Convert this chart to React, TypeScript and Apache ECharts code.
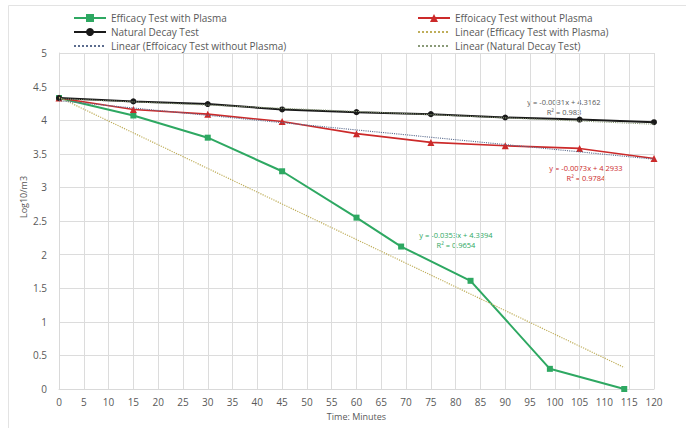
import React, { useEffect, useRef } from "react";
import * as echarts from "echarts";

const plasmaX = [0, 15, 30, 45, 60, 69, 83, 99, 114];
const plasmaY = [4.33, 4.07, 3.74, 3.24, 2.55, 2.12, 1.61, 0.3, 0.0];
const noPlasmaX = [0, 15, 30, 45, 60, 75, 90, 105, 120];
const noPlasmaY = [4.33, 4.16, 4.09, 3.98, 3.8, 3.67, 3.62, 3.58, 3.43];
const naturalX = [0, 15, 30, 45, 60, 75, 90, 105, 120];
const naturalY = [4.33, 4.28, 4.24, 4.16, 4.12, 4.09, 4.04, 4.01, 3.97];
const trendPlasma = [[0, 4.34], [114, 0.32]];
const trendNoPlasma = [[0, 4.29], [120, 3.42]];
const trendNatural = [[0, 4.32], [120, 3.94]];
const eqNatural = ["y = -0.0031x + 4.3162", "R² = 0.983"];
const eqNoPlasma = ["y = -0.0073x + 4.2933", "R² = 0.9784"];
const eqPlasma = ["y = -0.0353x + 4.3394", "R² = 0.9654"];

const FONT = "'Open Sans', 'Liberation Sans', sans-serif";
const GREEN = "#2ea862";
const RED = "#cc2a2a";
const BLACK = "#1a1a1a";
const T_GREEN = "#bfae5a";
const T_RED = "#5b6c8e";
const T_BLACK = "#8a9a78";

const zip = (xs: number[], ys: number[]) => xs.map((x, i) => [x, ys[i]]);

export default function App() {
  const ref = useRef<HTMLDivElement>(null);
  useEffect(() => {
    if (!ref.current) return;
    const chart = echarts.init(ref.current, undefined, { renderer: "svg" });
    const legendText = { color: "#595959", fontSize: 10, fontFamily: FONT };
    const eqText = (x: number, y: number, lines: string[], color: string) =>
      lines.map((s, i) => ({
        type: "text",
        x,
        y: y + i * 10,
        style: {
          text: s,
          fill: color,
          fontSize: 7.5,
          fontFamily: FONT,
          align: "center",
          verticalAlign: "middle",
        },
      }));
    const hideSym = (name: string) => ({ name, itemStyle: { opacity: 0 } });
    chart.setOption({
      animation: false,
      backgroundColor: "#ffffff",
      textStyle: { fontFamily: FONT },
      grid: { left: 59, right: 32, top: 53, bottom: 39, containLabel: false },
      legend: [
        {
          data: ["Efficacy Test with Plasma", "Natural Decay Test", hideSym("Linear (Effoicacy Test without Plasma)")],
          orient: "vertical",
          left: 68,
          top: 8,
          itemGap: 4,
          itemWidth: 32,
          itemHeight: 10,
          textStyle: legendText,
        },
        {
          data: [
            "Effoicacy Test without Plasma",
            hideSym("Linear (Efficacy Test with Plasma)"),
            hideSym("Linear (Natural Decay Test)"),
          ],
          orient: "vertical",
          left: 412,
          top: 8,
          itemGap: 4,
          itemWidth: 32,
          itemHeight: 10,
          textStyle: legendText,
        },
      ],
      xAxis: {
        type: "value",
        min: 0,
        max: 120,
        interval: 5,
        name: "Time: Minutes",
        nameLocation: "middle",
        nameGap: 22,
        nameTextStyle: { color: "#595959", fontSize: 9, fontFamily: FONT },
        axisLine: { show: true, lineStyle: { color: "#d9d9d9" } },
        axisTick: { show: false },
        axisLabel: { color: "#595959", fontSize: 10, fontFamily: FONT, margin: 8 },
        splitLine: { show: true, lineStyle: { color: "#dcdcdc", width: 1 } },
      },
      yAxis: {
        type: "value",
        min: 0,
        max: 5,
        interval: 0.5,
        axisLine: { show: true, lineStyle: { color: "#d9d9d9" } },
        axisTick: { show: false },
        axisLabel: { color: "#595959", fontSize: 10, fontFamily: FONT, margin: 12 },
        splitLine: { show: true, lineStyle: { color: "#dcdcdc", width: 1 } },
      },
      series: [
        {
          name: "Efficacy Test with Plasma",
          type: "line",
          data: zip(plasmaX, plasmaY),
          symbol: "rect",
          symbolSize: 6,
          color: GREEN,
          lineStyle: { color: GREEN, width: 2 },
          itemStyle: { color: GREEN },
          z: 3,
        },
        {
          name: "Effoicacy Test without Plasma",
          type: "line",
          data: zip(noPlasmaX, noPlasmaY),
          symbol: "triangle",
          symbolSize: 7,
          color: RED,
          lineStyle: { color: RED, width: 1.6 },
          itemStyle: { color: RED },
          z: 3,
        },
        {
          name: "Natural Decay Test",
          type: "line",
          data: zip(naturalX, naturalY),
          symbol: "circle",
          symbolSize: 6,
          color: BLACK,
          lineStyle: { color: BLACK, width: 2 },
          itemStyle: { color: BLACK },
          z: 3,
        },
        {
          name: "Linear (Efficacy Test with Plasma)",
          type: "line",
          data: trendPlasma,
          symbol: "none",
          showSymbol: false,
          color: T_GREEN,
          lineStyle: { color: T_GREEN, width: 1.2, type: "dotted" },
          z: 4,
        },
        {
          name: "Linear (Effoicacy Test without Plasma)",
          type: "line",
          data: trendNoPlasma,
          symbol: "none",
          showSymbol: false,
          color: T_RED,
          lineStyle: { color: T_RED, width: 1.1, type: "dotted" },
          z: 4,
        },
        {
          name: "Linear (Natural Decay Test)",
          type: "line",
          data: trendNatural,
          symbol: "none",
          showSymbol: false,
          color: T_BLACK,
          lineStyle: { color: T_BLACK, width: 1.1, type: "dotted" },
          z: 4,
        },
      ],
      graphic: [
        {
          type: "rect",
          shape: { x: 8.5, y: 5.5, width: 700, height: 440 },
          style: { fill: "none", stroke: "#e3e3e3", lineWidth: 1 },
          silent: true,
        },
        {
          type: "text",
          x: 23,
          y: 197,
          rotation: Math.PI / 2,
          style: { text: "Log10/m3", fill: "#595959", fontSize: 9, fontFamily: FONT, align: "center", verticalAlign: "middle" },
        },
        ...eqText(564, 102, eqNatural, "#595959"),
        ...eqText(586, 168, eqNoPlasma, RED),
        ...eqText(456, 235, eqPlasma, GREEN),
      ],
    });
    return () => chart.dispose();
  }, []);
  return (
    <div
      ref={ref}
      style={{ position: "fixed", left: 0, top: 0, width: 686, height: 428, background: "#fff" }}
    />
  );
}
